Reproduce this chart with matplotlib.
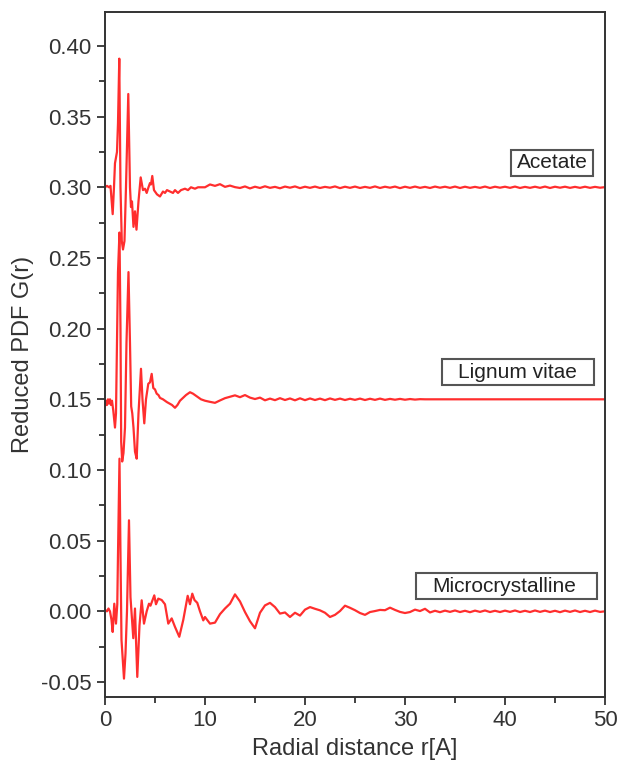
import numpy as np
import matplotlib
matplotlib.use("Agg")
import matplotlib.pyplot as plt
from matplotlib.patches import Rectangle
from matplotlib.ticker import MultipleLocator, FormatStrFormatter

plt.rcParams['font.family'] = ['Liberation Sans', 'DejaVu Sans']
plt.rcParams['axes.unicode_minus'] = False

# --- data ----------------------------------------------------------------
# first 10 A, hand-read (r, G)
acetate_r_head = [0.0, 0.2, 0.4, 0.55, 0.65, 0.77, 0.9, 1.0, 1.2, 1.3, 1.43, 1.55, 1.68,
                  1.8, 1.95, 2.1, 2.33, 2.5, 2.6, 2.7, 2.85, 3.0, 3.15, 3.35, 3.57, 3.8,
                  4.0, 4.17, 4.35, 4.5, 4.6, 4.73, 4.9, 5.2, 5.5, 5.8, 6.0, 6.2, 6.5, 6.8,
                  7.0, 7.3, 7.6, 8.0, 8.3, 8.6, 9.0, 9.3, 9.6]
acetate_g_head = [0.300, 0.301, 0.300, 0.301, 0.292, 0.281, 0.300, 0.317, 0.325, 0.345,
                  0.391, 0.300, 0.262, 0.256, 0.262, 0.300, 0.366, 0.300, 0.286, 0.290,
                  0.272, 0.283, 0.270, 0.290, 0.307, 0.298, 0.299, 0.296, 0.300, 0.303,
                  0.302, 0.308, 0.298, 0.295, 0.2935, 0.297, 0.296, 0.298, 0.297, 0.296,
                  0.298, 0.296, 0.298, 0.299, 0.298, 0.300, 0.299, 0.300, 0.300]

lignum_r_head = [0.0, 0.1, 0.2, 0.3, 0.4, 0.5, 0.6, 0.7, 0.83, 1.0, 1.1, 1.2, 1.3, 1.45,
                 1.55, 1.62, 1.72, 1.85, 2.0, 2.15, 2.35, 2.5, 2.62, 2.73, 2.85, 3.0, 3.17,
                 3.35, 3.6, 3.75, 3.93, 4.1, 4.33, 4.5, 4.67, 4.83, 5.0, 5.17, 5.35, 5.5,
                 5.8, 6.0, 6.2, 6.45, 6.7, 7.0, 7.25, 7.5, 7.8, 8.1, 8.5, 8.8, 9.2, 9.6]
lignum_g_head = [0.145, 0.149, 0.146, 0.150, 0.147, 0.150, 0.146, 0.149, 0.142, 0.130,
                 0.140, 0.190, 0.240, 0.268, 0.200, 0.120, 0.106, 0.112, 0.130, 0.190,
                 0.240, 0.190, 0.145, 0.140, 0.130, 0.113, 0.108, 0.140, 0.1716, 0.150,
                 0.133, 0.150, 0.161, 0.162, 0.168, 0.158, 0.157, 0.154, 0.153, 0.151,
                 0.150, 0.149, 0.148, 0.147, 0.146, 0.144, 0.146, 0.149, 0.151, 0.153,
                 0.155, 0.154, 0.152, 0.150]

micro_r_head = [0.0, 0.2, 0.35, 0.5, 0.65, 0.77, 0.93, 1.1, 1.23, 1.3, 1.45, 1.55, 1.65,
                1.9, 2.05, 2.2, 2.4, 2.55, 2.83, 3.0, 3.1, 3.23, 3.45, 3.67, 3.9, 4.17,
                4.4, 4.55, 4.93, 5.1, 5.33, 5.67, 6.0, 6.33, 6.67, 7.0, 7.43, 7.83, 8.27,
                8.5, 8.73, 8.95, 9.23, 9.5, 9.83]
micro_g_head = [0.001, 0.000, 0.002, 0.000, -0.006, -0.0146, 0.0054, -0.0087, 0.005,
                0.040, 0.108, 0.040, -0.020, -0.0476, -0.030, 0.000, 0.0644, 0.010,
                -0.019, 0.002, -0.020, -0.0464, -0.010, 0.0078, -0.0087, 0.000, 0.0054,
                0.004, 0.0113, 0.005, 0.009, 0.008, 0.005, -0.0087, -0.005, -0.011,
                -0.018, -0.006, 0.011, 0.005, 0.0125, 0.008, 0.006, 0.000, -0.0064]

# 10 A to 50 A, read every 0.5 A
r_tail = np.arange(10.0, 50.01, 0.5)
acetate_g_tail = [0.3000, 0.3020, 0.3010, 0.3022, 0.3003, 0.3012, 0.3001, 0.2995, 0.3006, 0.2992,
                  0.3004, 0.2995, 0.3007, 0.2996, 0.3003, 0.2993, 0.3005, 0.2997, 0.3006, 0.2994,
                  0.3004, 0.2996, 0.3005, 0.2995, 0.3003, 0.2997, 0.3006, 0.2994, 0.3004, 0.2996,
                  0.3005, 0.2995, 0.3003, 0.2996, 0.3006, 0.2995, 0.3004, 0.2997, 0.3005, 0.2994,
                  0.3004, 0.2996, 0.3005, 0.2996, 0.3003, 0.2995, 0.3005, 0.2997, 0.3004, 0.2996,
                  0.3005, 0.2995, 0.3004, 0.2996, 0.3003, 0.2996, 0.3005, 0.2995, 0.3004, 0.2997,
                  0.3004, 0.2996, 0.3005, 0.2995, 0.3003, 0.2996, 0.3004, 0.2996, 0.3005, 0.2995,
                  0.3004, 0.2997, 0.3004, 0.2996, 0.3003, 0.2996, 0.3004, 0.2996, 0.3003, 0.2997,
                  0.3001]
lignum_g_tail = [0.1490, 0.1482, 0.1475, 0.1492, 0.1508, 0.1518, 0.1528, 0.1515, 0.1530, 0.1512,
                 0.1502, 0.1512, 0.1493, 0.1505, 0.1494, 0.1508, 0.1495, 0.1506, 0.1493, 0.1507,
                 0.1494, 0.1506, 0.1495, 0.1505, 0.1494, 0.1506, 0.1496, 0.1505, 0.1495, 0.1504,
                 0.1496, 0.1505, 0.1495, 0.1504, 0.1496, 0.1505, 0.1496, 0.1503, 0.1497, 0.1503,
                 0.1497, 0.1502, 0.1498, 0.1501, 0.1500, 0.1500, 0.1500, 0.1500, 0.1500, 0.1500,
                 0.1500, 0.1500, 0.1500, 0.1500, 0.1500, 0.1500, 0.1500, 0.1500, 0.1500, 0.1500,
                 0.1500, 0.1500, 0.1500, 0.1500, 0.1500, 0.1500, 0.1500, 0.1500, 0.1500, 0.1500,
                 0.1500, 0.1500, 0.1500, 0.1500, 0.1500, 0.1500, 0.1500, 0.1500, 0.1500, 0.1500,
                 0.1500]
micro_g_tail = [-0.0040, -0.0087, -0.0080, -0.0020, 0.0020, 0.0054, 0.0120, 0.0070, -0.0005, -0.0070,
                -0.0120, -0.0010, 0.0042, 0.0060, 0.0030, -0.0016, -0.0008, -0.0040, -0.0010, -0.0030,
                0.0012, 0.0030, 0.0018, 0.0007, -0.0010, -0.0040, -0.0025, 0.0002, 0.0040, 0.0025,
                0.0008, -0.0012, -0.0025, -0.0005, 0.0002, 0.0010, 0.0008, 0.0026, 0.0010, -0.0004,
                -0.0012, -0.0005, 0.0012, 0.0002, 0.0018, -0.0008, 0.0004, -0.0006, 0.0005, -0.0004,
                0.0006, -0.0005, 0.0004, -0.0006, 0.0005, -0.0004, 0.0006, -0.0005, 0.0004, -0.0005,
                0.0005, -0.0004, 0.0006, -0.0005, 0.0004, -0.0005, 0.0006, -0.0004, 0.0005, -0.0005,
                0.0004, -0.0006, 0.0005, -0.0004, 0.0006, -0.0005, 0.0004, -0.0005, 0.0005, -0.0004,
                0.0000]

labels = ['Acetate', 'Lignum vitae', 'Microcrystalline']

# label boxes: (x0, x1, y0, y1) in data units, text centre
label_boxes = [(40.6, 48.8, 0.3083, 0.3267),
               (33.7, 48.9, 0.1598, 0.1782),
               (31.1, 49.2, 0.0085, 0.0269)]
label_centres = [(44.7, 0.3175), (41.2, 0.169), (39.9, 0.0177)]

# --- figure ---------------------------------------------------------------
fig = plt.figure(figsize=(6.19, 7.65), dpi=100)
ax = fig.add_axes([0.1696, 0.0889, 0.8078, 0.8954])

line_kw = dict(color='#ff2e2e', lw=1.6)
curves = [
    (acetate_r_head, acetate_g_head, acetate_g_tail),
    (lignum_r_head, lignum_g_head, lignum_g_tail),
    (micro_r_head, micro_g_head, micro_g_tail),
]
for rh, gh, gt in curves:
    r = np.concatenate([rh, r_tail])
    g = np.concatenate([gh, gt])
    ax.plot(r, g, **line_kw)

for txt, (x0, x1, y0, y1), (xc, yc) in zip(labels, label_boxes, label_centres):
    ax.add_patch(Rectangle((x0, y0), x1 - x0, y1 - y0, fc='white', ec='#555555',
                           lw=1.5, zorder=3))
    ax.text(xc, yc, txt, fontsize=15, ha='center', va='center', color='#222222', zorder=4)

ax.set_xlim(0, 50)
ax.set_ylim(-0.0606, 0.424)
ax.xaxis.set_major_locator(MultipleLocator(10))
ax.xaxis.set_minor_locator(MultipleLocator(5))
ax.yaxis.set_major_locator(MultipleLocator(0.05))
ax.yaxis.set_minor_locator(MultipleLocator(0.025))
ax.yaxis.set_major_formatter(FormatStrFormatter('%.2f'))

for s in ax.spines.values():
    s.set_linewidth(1.4)
    s.set_color('#333333')
ax.tick_params(which='both', direction='out', width=1.3, colors='#333333',
               labelsize=16, labelcolor='#333333')
ax.tick_params(which='major', length=6)
ax.tick_params(which='minor', length=4)

ax.set_xlabel('Radial distance r[A]', fontsize=17, color='#333333', labelpad=5)
ax.set_ylabel('Reduced PDF G(r)', fontsize=17, color='#333333', labelpad=5)

fig.savefig('out.png', dpi=100)
